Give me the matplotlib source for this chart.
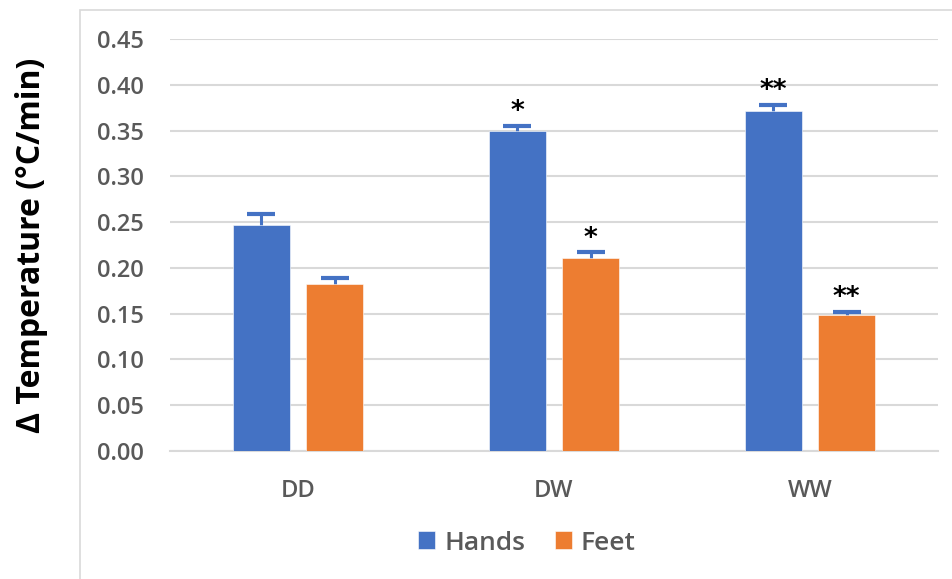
import matplotlib.pyplot as plt
from matplotlib.patches import Rectangle
import numpy as np

# mean cooling rate per condition, with upper error
conditions = ["DD", "DW", "WW"]
hands = [0.247, 0.350, 0.371]
feet = [0.182, 0.211, 0.148]
hands_err = [0.012, 0.005, 0.007]
feet_err = [0.007, 0.006, 0.004]
hands_sig = ["", "*", "**"]
feet_sig = ["", "*", "**"]

BLUE = "#4472C4"
ORANGE = "#ED7D31"
GREY = "#595959"

plt.rcParams["font.family"] = ["Open Sans", "DejaVu Sans"]

fig = plt.figure(figsize=(9.53, 5.79), dpi=100)

# light chart border (left and top only visible)
fig.patches.append(Rectangle((80 / 953, -0.1), 1.2, 0.1 + (579 - 10) / 579,
                             transform=fig.transFigure, fill=False,
                             edgecolor="#d9d9d9", linewidth=1.2))

ax = fig.add_axes([170 / 953, (579 - 451) / 579, 768 / 953, 412 / 579])

x = np.arange(len(conditions))
w = 0.223
off = 0.143

ax.bar(x - off, hands, w, color=BLUE, edgecolor="white", linewidth=0.4,
       label="Hands", zorder=3)
ax.bar(x + off, feet, w, color=ORANGE, edgecolor="white", linewidth=0.4,
       label="Feet", zorder=3)

# symmetric error bars drawn behind the bars, so only the upper half shows
ax.errorbar(x - off, hands, yerr=hands_err, fmt="none",
            ecolor=BLUE, elinewidth=2.2, capsize=10, capthick=3, zorder=2)
ax.errorbar(x + off, feet, yerr=feet_err, fmt="none",
            ecolor=BLUE, elinewidth=2.2, capsize=10, capthick=3, zorder=2)

# significance marks above the caps
for i in range(len(conditions)):
    if hands_sig[i]:
        ax.text(x[i] - off, hands[i] + hands_err[i] + 0.015, hands_sig[i],
                ha="center", va="center", fontsize=19, fontweight="bold",
                color="black", family="DejaVu Sans")
    if feet_sig[i]:
        ax.text(x[i] + off, feet[i] + feet_err[i] + 0.015, feet_sig[i],
                ha="center", va="center", fontsize=19, fontweight="bold",
                color="black", family="DejaVu Sans")

ax.set_xlim(-0.5, 2.5)
ax.set_ylim(0, 0.45)
ax.set_yticks(np.arange(0, 0.451, 0.05))
ax.set_yticklabels([f"{v:.2f}" for v in np.arange(0, 0.451, 0.05)])
ax.set_xticks(x)
ax.set_xticklabels(conditions)
ax.tick_params(axis="both", length=0, labelsize=17, labelcolor=GREY)
ax.tick_params(axis="y", pad=19)
ax.tick_params(axis="x", pad=20)
for lab in ax.get_xticklabels() + ax.get_yticklabels():
    lab.set_fontweight(600)

ax.grid(axis="y", color="#d9d9d9", linewidth=1.5, zorder=0)
for s in ["top", "right", "left"]:
    ax.spines[s].set_visible(False)
ax.spines["bottom"].set_color("#d9d9d9")
ax.spines["bottom"].set_linewidth(1.5)

fig.text(32 / 953, 1 - 245 / 579, "Δ Temperature (°C/min)", rotation=90,
         ha="center", va="center", fontsize=23, fontweight="bold",
         color="black")

leg = ax.legend(loc="center", bbox_to_anchor=(527 / 953, 1 - 543 / 579),
                bbox_transform=fig.transFigure, ncol=2, frameon=False,
                prop={"size": 19, "weight": 600}, handlelength=0.65,
                handleheight=0.65, handletextpad=0.35, columnspacing=1.1)
for t in leg.get_texts():
    t.set_color(GREY)

fig.savefig("out.png", dpi=100)
